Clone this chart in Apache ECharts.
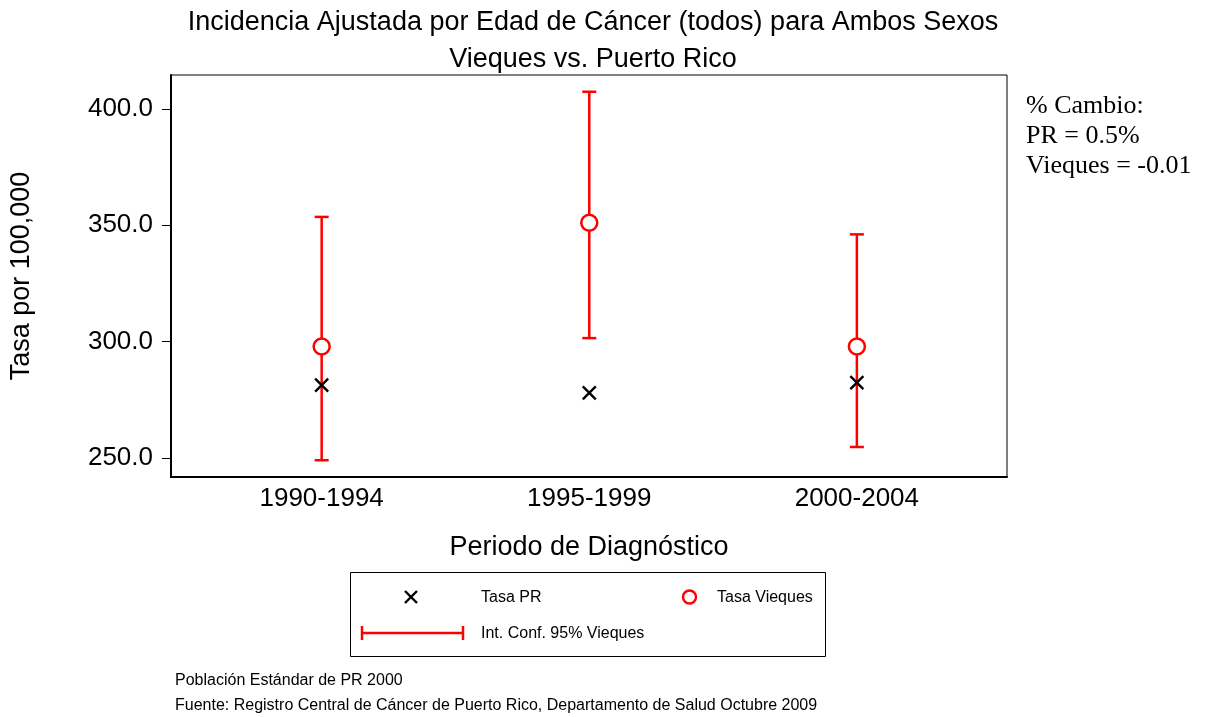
<!DOCTYPE html>
<html>
<head>
<meta charset="utf-8">
<title>Incidencia Ajustada por Edad de Cáncer</title>
<script src="https://cdn.jsdelivr.net/npm/echarts@6/dist/echarts.min.js"></script>
<style>
  html, body { margin: 0; padding: 0; background: #fff; }
  #main { width: 1207px; height: 717px; }
</style>
</head>
<body>
<div id="main"></div>
<script>
// periodos de diagnostico
var periodos = ['1990-1994', '1995-1999', '2000-2004'];
// tasa PR (x negra)
var tasaPR = [281.3, 278.0, 282.4];
// tasa Vieques (circulo rojo)
var tasaVieques = [297.9, 351.1, 297.9];
// intervalo de confianza 95% Vieques
var ciBajo = [249.0, 301.5, 254.7];
var ciAlto = [353.6, 407.4, 346.1];
var yTicks = [250, 300, 350, 400];

var font = 'Liberation Sans, Arial, sans-serif';
var rojo = '#ff0000';

var prData = tasaPR.map(function (v, i) { return [i + 1, v]; });
var viqData = tasaVieques.map(function (v, i) { return [i + 1, v]; });
var ciData = ciBajo.map(function (v, i) { return [i + 1, v, ciAlto[i]]; });

var myChart = echarts.init(document.getElementById('main'));

var option = {
  backgroundColor: '#fff',
  animation: false,
  title: {
    text: 'Incidencia Ajustada por Edad de Cáncer (todos) para Ambos Sexos\nVieques vs. Puerto Rico',
    left: 588, textAlign: 'center', top: -1,
    textStyle: { fontFamily: font, fontSize: 27, fontWeight: 'normal', color: '#000', lineHeight: 37 }
  },
  grid: {
    left: 170, right: 200, top: 75, bottom: 240,
    show: true, borderColor: '#000', borderWidth: 1
  },
  xAxis: {
    type: 'value', min: 0.437, max: 3.561,
    name: 'Periodo de Diagnóstico', nameLocation: 'middle', nameGap: 57,
    nameTextStyle: { fontFamily: font, fontSize: 27, color: '#000' },
    axisLine: { lineStyle: { color: '#000', width: 2 } },
    axisTick: { show: false },
    splitLine: { show: false },
    axisLabel: {
      customValues: [1, 2, 3],
      formatter: function (v) { return periodos[Math.round(v) - 1]; },
      fontFamily: font, fontSize: 26, color: '#000', margin: 9
    }
  },
  yAxis: {
    type: 'value', min: 241.8, max: 414.6,
    name: 'Tasa por 100,000', nameLocation: 'middle', nameGap: 136, nameRotate: 90,
    nameTextStyle: { fontFamily: font, fontSize: 27, color: '#000' },
    axisLine: { show: true, lineStyle: { color: '#000', width: 2 } },
    axisTick: { show: true, customValues: yTicks, length: 9, lineStyle: { color: '#000', width: 1 } },
    splitLine: { show: false },
    axisLabel: {
      customValues: yTicks,
      formatter: function (v) { return v.toFixed(1); },
      fontFamily: font, fontSize: 26, color: '#000', margin: 18
    }
  },
  series: [{
    name: 'Int. Conf. 95% Vieques',
    type: 'custom',
    renderItem: function (params, api) {
      var x = api.value(0);
      var lo = api.coord([x, api.value(1)]);
      var hi = api.coord([x, api.value(2)]);
      var w = 7;
      var st = { stroke: rojo, lineWidth: 2.5 };
      return {
        type: 'group',
        children: [
          { type: 'line', shape: { x1: lo[0], y1: lo[1], x2: hi[0], y2: hi[1] }, style: st },
          { type: 'line', shape: { x1: hi[0] - w, y1: hi[1], x2: hi[0] + w, y2: hi[1] }, style: st },
          { type: 'line', shape: { x1: lo[0] - w, y1: lo[1], x2: lo[0] + w, y2: lo[1] }, style: st }
        ]
      };
    },
    encode: { x: 0, y: [1, 2] },
    data: ciData,
    z: 2
  }, {
    name: 'Tasa Vieques',
    type: 'scatter',
    symbol: 'circle',
    symbolSize: 16,
    itemStyle: { color: '#fff', borderColor: rojo, borderWidth: 2.5, opacity: 1 },
    data: viqData,
    z: 3
  }, {
    name: 'Tasa PR',
    type: 'scatter',
    symbol: 'path://M0,0L10,10M10,0L0,10',
    symbolSize: 13,
    itemStyle: { color: 'none', borderColor: '#000', borderWidth: 2.4, opacity: 1 },
    data: prData,
    z: 4
  }],
  graphic: [
    // nota de cambio porcentual
    {
      type: 'text', left: 1026, top: 91,
      style: {
        text: '% Cambio:\nPR = 0.5%\nVieques = -0.01',
        font: '26px "Liberation Serif", "Times New Roman", serif',
        lineHeight: 30, fill: '#000'
      }
    },
    // leyenda
    { type: 'rect', shape: { x: 350.5, y: 572.5, width: 475, height: 84 }, style: { fill: 'none', stroke: '#000', lineWidth: 1 } },
    { type: 'polyline', shape: { points: [[405, 591], [417, 603]] }, style: { stroke: '#000', lineWidth: 2.4 } },
    { type: 'polyline', shape: { points: [[417, 591], [405, 603]] }, style: { stroke: '#000', lineWidth: 2.4 } },
    { type: 'text', left: 481, top: 590, style: { text: 'Tasa PR', font: '16px ' + font, fill: '#000' } },
    { type: 'circle', shape: { cx: 689.5, cy: 597, r: 6.5 }, style: { fill: 'none', stroke: rojo, lineWidth: 2.4 } },
    { type: 'text', left: 717, top: 590, style: { text: 'Tasa Vieques', font: '16px ' + font, fill: '#000' } },
    { type: 'line', shape: { x1: 362, y1: 633, x2: 463, y2: 633 }, style: { stroke: rojo, lineWidth: 2.5 } },
    { type: 'line', shape: { x1: 362, y1: 626, x2: 362, y2: 640 }, style: { stroke: rojo, lineWidth: 2.5 } },
    { type: 'line', shape: { x1: 463, y1: 626, x2: 463, y2: 640 }, style: { stroke: rojo, lineWidth: 2.5 } },
    { type: 'text', left: 481, top: 626, style: { text: 'Int. Conf. 95% Vieques', font: '16px ' + font, fill: '#000' } },
    // notas al pie
    { type: 'text', left: 175, top: 673, style: { text: 'Población Estándar de PR 2000', font: '16px ' + font, fill: '#000' } },
    { type: 'text', left: 175, top: 698, style: { text: 'Fuente: Registro Central de Cáncer de Puerto Rico, Departamento de Salud Octubre 2009', font: '16px ' + font, fill: '#000' } }
  ]
};

myChart.setOption(option);
</script>
</body>
</html>
